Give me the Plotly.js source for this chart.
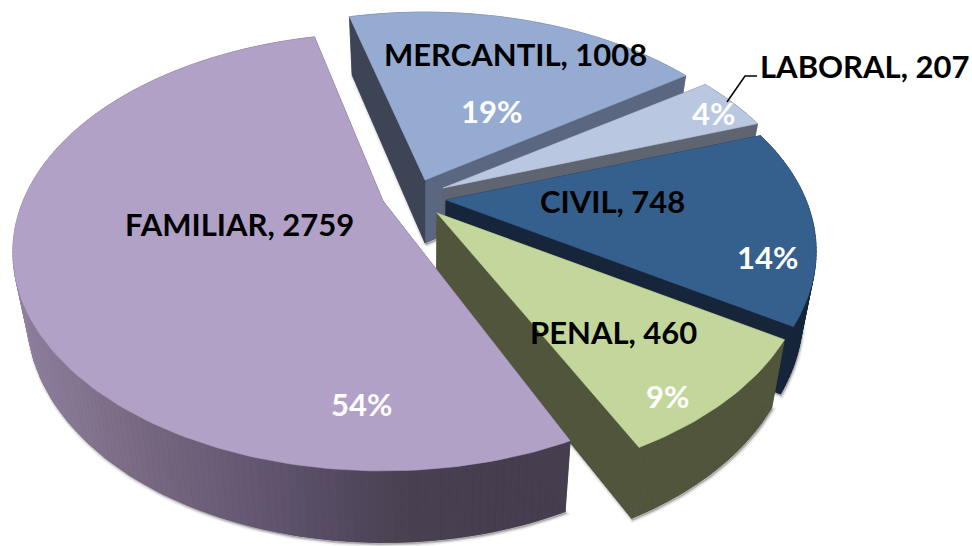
<!DOCTYPE html>
<html><head><meta charset="utf-8">
<script src="https://cdn.plot.ly/plotly-3.0.1.min.js"></script>
<style>html,body{margin:0;padding:0;background:#fff}#chart{width:972px;height:546px}</style>
</head><body><div id="chart"></div>
<script>
// DATA
var categories = ["MERCANTIL", "LABORAL", "CIVIL", "PENAL", "FAMILIAR"];
var values = [1008, 207, 748, 460, 2759];
var percentLabels = ["19%", "4%", "14%", "9%", "54%"];

// STYLE
var topColors = ["#95abd2", "#b9c7e1", "#35608d", "#c3d69b", "#b2a1c7"];
var startWallColors = ["#3c4456", "#5f6471", "#16253a", "#50553c", "#463d4e"];
var endWallColors = ["#5b6781", "#5f6471", "#16253a", "#50553c", "#463d4e"];
var rimWallColors = ["#5b6781", "#5f6471", "#16253a", "#50553c", null];

// PROJECTION of the tilted, exploded pie
var sliceCentres = [[425,180],[443,188],[446,200],[437,213],[383,201]];
var angleTrim = [[-0.9,-0.9],[-0.5,0],[0,0],[0,-0.7],[1.5,0.5]];
var startAngle = 256, radiusX = 360, radiusY = 207, perspective = 0.233;
var labelAnchors = [[515,54],[864,66],[612,201],[613,332],[239,224]];
var percentAnchors = [[491,111],[713,113],[767,257],[667,396],[361,404]];

var traces = [];
function poly(pts, fill, lineColor, lineWidth) {
  var xs = pts.map(function(p){return p[0];}), ys = pts.map(function(p){return p[1];});
  xs.push(xs[0]); ys.push(ys[0]);
  traces.push({type:"scatter", mode:"lines", x:xs, y:ys, fill:"toself", fillcolor:fill,
    line:{color:lineColor||fill, width:lineWidth===undefined?0.6:lineWidth}, hoverinfo:"skip", showlegend:false});
}
function rimPoint(c, deg) {
  var t = deg*Math.PI/180, s = Math.sin(t), co = Math.cos(t), d = 1 - perspective*s;
  return [c[0] + radiusX*co/d, c[1] + radiusY*s/d];
}
function down(p) {
  return [p[0] - (p[0]-425)*0.035, p[1] + 58 + (p[1]-17)*0.03];
}
function hexMix(a, b, f) {
  var pa=[1,3,5].map(function(i){return parseInt(a.substr(i,2),16);}),
      pb=[1,3,5].map(function(i){return parseInt(b.substr(i,2),16);});
  return "rgb("+pa.map(function(v,i){return Math.round(v+(pb[i]-v)*f);}).join(",")+")";
}
function familiarShade(x) {
  var stops=[[15,"#8f82a0"],[130,"#7a6a83"],[270,"#605470"],[400,"#4a4152"],[500,"#463d4e"]];
  if (x<=stops[0][0]) return stops[0][1];
  for (var i=1;i<stops.length;i++) if (x<stops[i][0])
    return hexMix(stops[i-1][1],stops[i][1],(x-stops[i-1][0])/(stops[i][0]-stops[i-1][0]));
  return stops[stops.length-1][1];
}

var total = values.reduce(function(a,b){return a+b;},0);
var cum = 0;
values.forEach(function(v,i){
  var a0 = startAngle + cum/total*360 + angleTrim[i][0];
  cum += v;
  var a1 = startAngle + cum/total*360 + angleTrim[i][1];
  var c = sliceCentres[i], n = Math.max(6, Math.round(a1-a0));
  var rim = [];
  for (var k=0;k<=n;k++) rim.push(rimPoint(c, a0+(a1-a0)*k/n));
  var top = [c].concat(rim);
  var bottom = top.map(down);
  // soft shadow
  var sh = bottom.map(function(p){return [p[0]+1,p[1]+2];});
  poly(sh, "rgba(0,0,0,0.10)", "rgba(0,0,0,0.07)", 5);
  poly(sh, "rgba(0,0,0,0.10)", "rgba(0,0,0,0.14)", 2);
  poly(bottom, endWallColors[i]);
  // rim wall
  for (k=0;k<n;k++) {
    var col = rimWallColors[i] || familiarShade((rim[k][0]+rim[k+1][0])/2);
    poly([rim[k], rim[k+1], down(rim[k+1]), down(rim[k])], col);
  }
  // radial walls
  poly([c, rim[n], down(rim[n]), down(c)], endWallColors[i]);
  poly([c, rim[0], down(rim[0]), down(c)], startWallColors[i]);
  poly(top, topColors[i]);
});

var annotations = [];
categories.forEach(function(cat,i){
  annotations.push({x:labelAnchors[i][0], y:labelAnchors[i][1], xref:"x", yref:"y", showarrow:false,
    text:cat+", "+values[i], font:{family:"Lato, 'Open Sans', sans-serif", size:31, color:"#000", weight:700}});
  annotations.push({x:percentAnchors[i][0], y:percentAnchors[i][1], xref:"x", yref:"y", showarrow:false,
    text:percentLabels[i], font:{family:"Lato, 'Open Sans', sans-serif", size:31, color:"#fff", weight:700}});
});

var layout = {
  width:972, height:546, margin:{l:0,r:0,t:0,b:0}, paper_bgcolor:"#fff", plot_bgcolor:"#fff", showlegend:false,
  xaxis:{range:[0,972], visible:false, fixedrange:true},
  yaxis:{range:[546,0], visible:false, fixedrange:true},
  annotations:annotations,
  shapes:[{type:"path", path:"M727,102 L745,76 L757,76", line:{color:"#000", width:1.5}, xref:"x", yref:"y"}],
  hovermode:false
};
Plotly.newPlot("chart", traces, layout, {displayModeBar:false, staticPlot:true});
</script></body></html>
